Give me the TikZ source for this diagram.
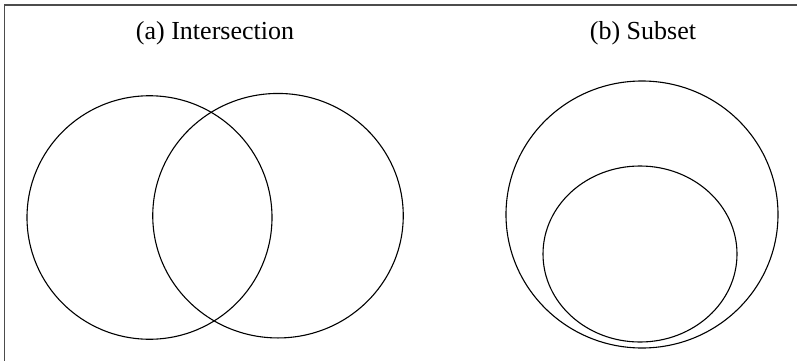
\documentclass[tikz,border=0pt]{standalone}
\usepackage{fontspec}
\setmainfont{Liberation Serif}
\usetikzlibrary{shapes.geometric}
\tikzset{
  setshape/.style={draw,ellipse,inner sep=0pt,line width=1.1pt},
  caption/.style={font=\fontsize{26}{31}\selectfont}
}
\begin{document}
\begin{tikzpicture}[x=1pt,y=-1pt]
  \useasboundingbox (0,0) rectangle (797,361);
  \draw[line width=1.4pt,black!70] (797,5) -- (4.5,5) -- (4.5,361);
  \node[caption] (capA) at (215,33) {(a) Intersection};
  \node[caption] (capB) at (643,33) {(b) Subset};
  \node[setshape,minimum width=245pt,minimum height=243.5pt] (setA) at (149.5,217.5) {};
  \node[setshape,minimum width=250.5pt,minimum height=244.5pt] (setB) at (278,215.7) {};
  \node[setshape,minimum width=272pt,minimum height=267pt] (outer) at (642,214.5) {};
  \node[setshape,minimum width=194pt,minimum height=176pt] (inner) at (640,254) {};
\end{tikzpicture}
\end{document}
